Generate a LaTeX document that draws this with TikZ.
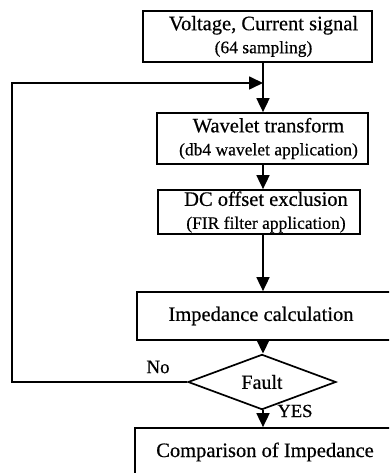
\documentclass[tikz,border=0pt]{standalone}
\usepackage{fontspec}
\setmainfont{Liberation Serif}[FakeBold=0.5]
\usepackage{tikz}
\usetikzlibrary{arrows.meta,positioning,shapes.geometric}
\newcommand{\subtxt}{\fontsize{17.5}{20}\selectfont}
\newcommand{\pad}[1]{\hspace*{#1pt}}

\begin{document}
\begin{tikzpicture}[
  x=1pt, y=-1pt,
  procbox/.style={draw, line width=1.7pt, align=center, inner sep=0pt, font=\fontsize{20.5}{23}\selectfont},
  decision/.style={draw, diamond, line width=1.7pt, inner sep=0pt, minimum width=148pt, minimum height=35pt, font=\fontsize{20}{22}\selectfont},
  arrow/.style={-{Triangle[length=14pt,width=13pt]}, line width=1.7pt},
  tag/.style={inner sep=0pt, font=\fontsize{19}{21}\selectfont}
]
\clip (0,0) rectangle (389,473);
\node[procbox, minimum width=229pt, minimum height=51pt] (sig) at (257.5,36.5) {\pad{12}Voltage, Current signal\\\pad{12}{\subtxt (64 sampling)}};
\node[procbox, minimum width=211pt, minimum height=51pt] (wav) at (262.5,138.5) {\pad{12}Wavelet transform\\\pad{12}{\subtxt (db4 wavelet application)}};
\node[procbox, minimum width=202pt, minimum height=44pt] (dco) at (259,212) {\pad{14}DC offset exclusion\\\pad{14}{\subtxt (FIR filter application)}};
\node[procbox, minimum width=258pt, minimum height=48pt] (imp) at (266,316) {Impedance calculation\pad{10}};
\node[decision] (fault) at (262,382) {Fault};
\node[procbox, minimum width=260pt, minimum height=48pt] (cmp) at (265,452) {Comparison of Impedance};

\coordinate (ax) at (263,0);
\coordinate (fbk) at (12,83);
\coordinate (join) at (263,83);
\node[tag] (no) at (158,367) {No};
\node[tag, font=\fontsize{18.5}{20}\selectfont] (yes) at (295,411) {YES};

\foreach \a/\b in {sig/wav,wav/dco,dco/imp}{\draw[arrow] (\a.south -| ax) -- (\b.north -| ax);}
\draw[arrow] (imp.south -| ax) -- (fault.north -| ax);
\draw[arrow] (fault.south -| ax) -- (cmp.north -| ax);
\draw[arrow] (fault.west) -| (fbk) -- (join);
\end{tikzpicture}
\end{document}
